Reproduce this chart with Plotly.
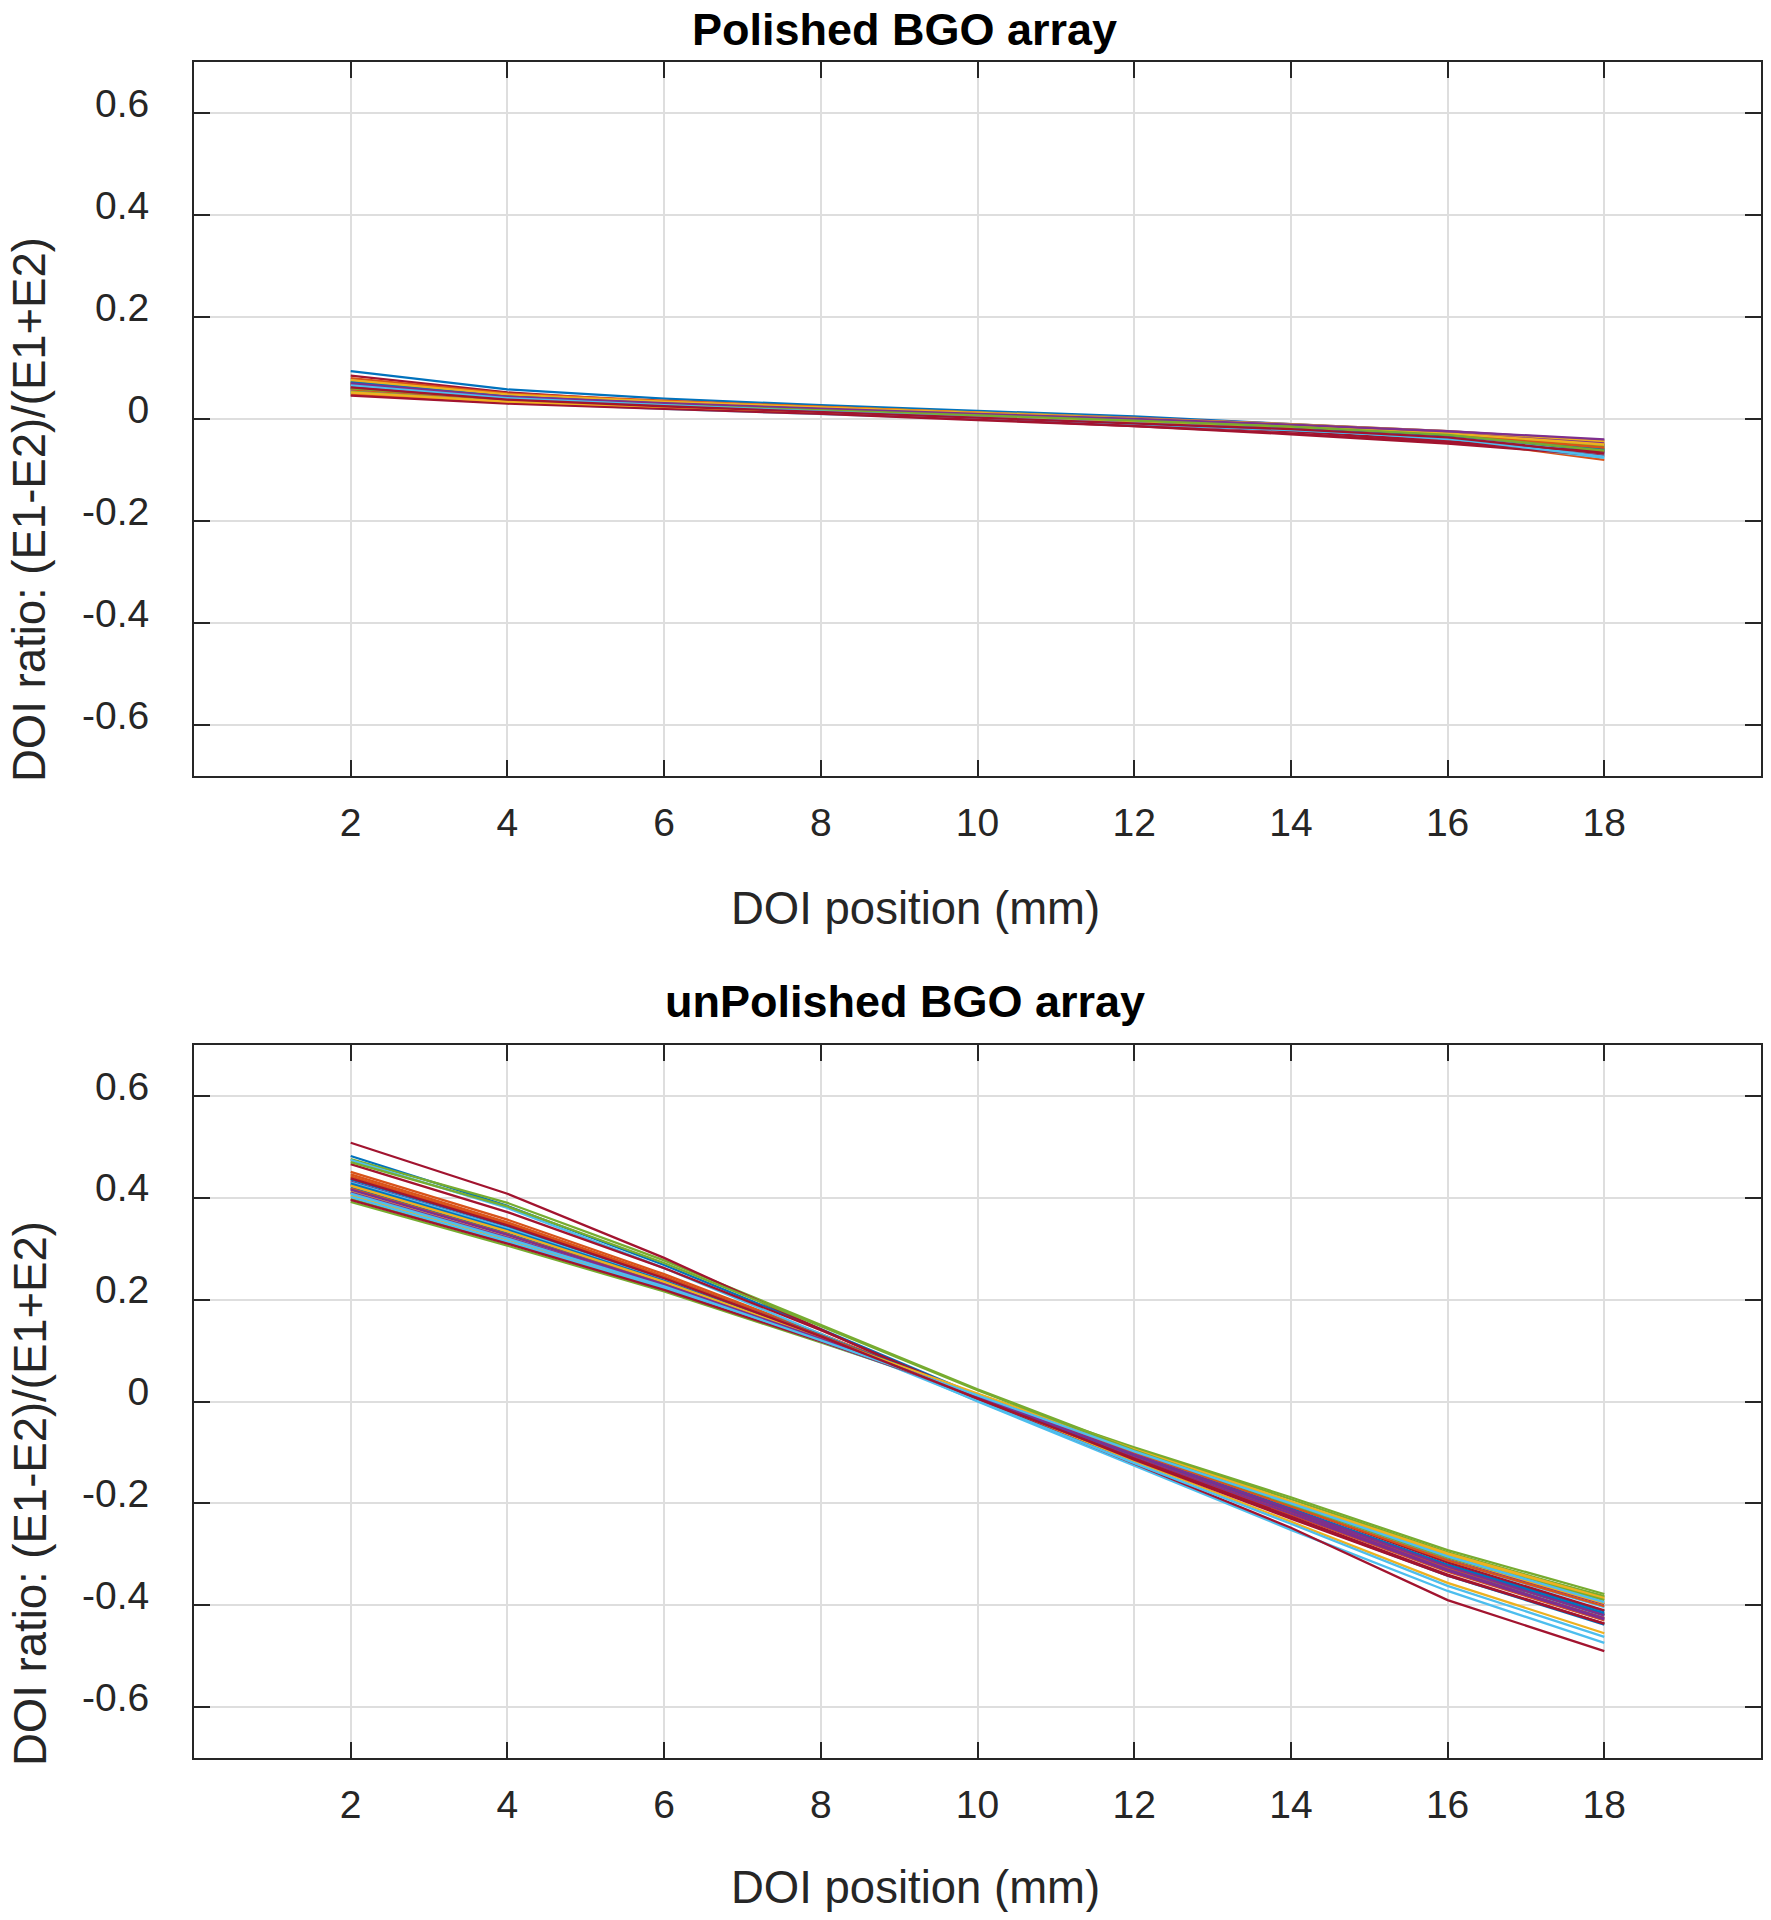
import plotly.graph_objects as go

doi_position_mm = [2, 4, 6, 8, 10, 12, 14, 16, 18]
x_ticks = [2, 4, 6, 8, 10, 12, 14, 16, 18]
y_ticks = [-0.6, -0.4, -0.2, 0, 0.2, 0.4, 0.6]
y_tick_text = ["-0.6", "-0.4", "-0.2", "0", "0.2", "0.4", "0.6"]

matlab_colors = ["#0072BD", "#D95319", "#EDB120", "#7E2F8E", "#77AC30", "#4DBEEE", "#A2142F"]

polished_ratio = [
    [0.094, 0.058, 0.040, 0.027, 0.016, 0.005, -0.010, -0.026, -0.052],
    [0.072, 0.045, 0.031, 0.020, 0.008, -0.004, -0.018, -0.040, -0.080],
    [0.070, 0.046, 0.034, 0.024, 0.013, 0.002, -0.012, -0.028, -0.056],
    [0.060, 0.040, 0.030, 0.021, 0.012, 0.002, -0.010, -0.024, -0.042],
    [0.066, 0.043, 0.031, 0.021, 0.010, -0.001, -0.014, -0.030, -0.058],
    [0.078, 0.050, 0.033, 0.017, 0.004, -0.008, -0.022, -0.040, -0.076],
    [0.085, 0.052, 0.033, 0.018, 0.005, -0.009, -0.024, -0.044, -0.066],
    [0.052, 0.034, 0.022, 0.012, 0.002, -0.008, -0.020, -0.034, -0.060],
    [0.080, 0.050, 0.036, 0.024, 0.012, 0.001, -0.012, -0.028, -0.050],
    [0.064, 0.042, 0.030, 0.020, 0.010, 0.000, -0.012, -0.026, -0.046],
    [0.056, 0.036, 0.025, 0.016, 0.006, -0.004, -0.016, -0.030, -0.054],
    [0.074, 0.047, 0.033, 0.022, 0.011, 0.000, -0.013, -0.030, -0.062],
    [0.050, 0.032, 0.020, 0.010, 0.000, -0.010, -0.022, -0.036, -0.070],
    [0.068, 0.040, 0.026, 0.014, 0.000, -0.014, -0.030, -0.048, -0.072],
    [0.062, 0.040, 0.028, 0.018, 0.008, -0.002, -0.014, -0.030, -0.064],
    [0.048, 0.032, 0.022, 0.013, 0.004, -0.006, -0.018, -0.032, -0.058],
    [0.076, 0.048, 0.034, 0.023, 0.012, 0.002, -0.010, -0.024, -0.044],
    [0.066, 0.042, 0.029, 0.019, 0.009, -0.002, -0.014, -0.028, -0.048],
    [0.054, 0.036, 0.025, 0.016, 0.006, -0.004, -0.016, -0.030, -0.052],
    [0.058, 0.038, 0.026, 0.015, 0.004, -0.006, -0.018, -0.034, -0.068],
    [0.046, 0.030, 0.020, 0.010, -0.002, -0.014, -0.028, -0.046, -0.064],
    [0.072, 0.044, 0.030, 0.019, 0.008, -0.003, -0.016, -0.032, -0.060],
    [0.058, 0.038, 0.027, 0.017, 0.007, -0.003, -0.015, -0.030, -0.056],
    [0.052, 0.034, 0.024, 0.015, 0.006, -0.004, -0.015, -0.028, -0.050],
    [0.070, 0.044, 0.031, 0.020, 0.010, 0.000, -0.011, -0.024, -0.040],
    [0.060, 0.039, 0.027, 0.017, 0.007, -0.003, -0.015, -0.031, -0.062],
    [0.066, 0.041, 0.027, 0.015, 0.003, -0.008, -0.021, -0.038, -0.074],
    [0.062, 0.038, 0.025, 0.014, 0.003, -0.008, -0.020, -0.036, -0.068],
]

unpolished_ratio = [
    [0.482, 0.384, 0.268, 0.142, 0.012, -0.112, -0.228, -0.342, -0.438],
    [0.451, 0.357, 0.250, 0.133, 0.010, -0.108, -0.218, -0.330, -0.425],
    [0.440, 0.348, 0.243, 0.128, 0.004, -0.117, -0.236, -0.356, -0.455],
    [0.425, 0.335, 0.236, 0.126, 0.012, -0.100, -0.205, -0.310, -0.398],
    [0.476, 0.390, 0.277, 0.151, 0.024, -0.094, -0.198, -0.302, -0.382],
    [0.474, 0.380, 0.262, 0.133, 0.000, -0.126, -0.252, -0.372, -0.474],
    [0.508, 0.408, 0.282, 0.142, 0.004, -0.122, -0.248, -0.390, -0.490],
    [0.420, 0.330, 0.232, 0.124, 0.010, -0.103, -0.210, -0.320, -0.412],
    [0.446, 0.352, 0.246, 0.130, 0.008, -0.110, -0.222, -0.334, -0.430],
    [0.405, 0.318, 0.224, 0.120, 0.012, -0.096, -0.198, -0.300, -0.388],
    [0.432, 0.340, 0.239, 0.127, 0.008, -0.108, -0.220, -0.332, -0.428],
    [0.398, 0.312, 0.220, 0.118, 0.014, -0.092, -0.192, -0.296, -0.384],
    [0.430, 0.340, 0.240, 0.126, 0.001, -0.121, -0.240, -0.362, -0.462],
    [0.466, 0.372, 0.262, 0.140, 0.010, -0.114, -0.230, -0.342, -0.436],
    [0.436, 0.345, 0.243, 0.130, 0.012, -0.104, -0.214, -0.326, -0.420],
    [0.442, 0.349, 0.244, 0.129, 0.010, -0.106, -0.216, -0.326, -0.418],
    [0.412, 0.323, 0.228, 0.121, 0.012, -0.098, -0.202, -0.306, -0.396],
    [0.410, 0.322, 0.227, 0.122, 0.008, -0.106, -0.216, -0.330, -0.426],
    [0.392, 0.306, 0.216, 0.116, 0.014, -0.090, -0.188, -0.292, -0.378],
    [0.402, 0.314, 0.222, 0.118, 0.010, -0.100, -0.204, -0.312, -0.404],
    [0.396, 0.310, 0.219, 0.118, 0.012, -0.098, -0.205, -0.316, -0.410],
    [0.428, 0.337, 0.237, 0.126, 0.010, -0.104, -0.212, -0.322, -0.416],
    [0.418, 0.328, 0.231, 0.123, 0.012, -0.100, -0.206, -0.312, -0.402],
    [0.424, 0.334, 0.235, 0.125, 0.016, -0.094, -0.196, -0.298, -0.386],
    [0.416, 0.327, 0.230, 0.123, 0.010, -0.104, -0.212, -0.324, -0.420],
    [0.470, 0.383, 0.272, 0.148, 0.022, -0.096, -0.202, -0.306, -0.390],
    [0.408, 0.320, 0.226, 0.120, 0.012, -0.098, -0.200, -0.304, -0.394],
    [0.438, 0.346, 0.242, 0.128, 0.006, -0.112, -0.226, -0.340, -0.436],
]

# page offset: the HTML body has an 8px margin, so figure px = page px - 8
OFF = 8
W, H = 1755, 1904
FONT = "Liberation Sans, Arial, Helvetica, sans-serif"
TXT = "#262626"

def fx(px):
    return (px - OFF) / W

def fy(px):
    return (H - (px - OFF)) / H

fig = go.Figure()
for i, row in enumerate(polished_ratio):
    fig.add_trace(go.Scatter(x=doi_position_mm, y=row, mode="lines",
                             line=dict(color=matlab_colors[i % 7], width=2.3),
                             xaxis="x", yaxis="y", showlegend=False))
for i, row in enumerate(unpolished_ratio):
    fig.add_trace(go.Scatter(x=doi_position_mm, y=row, mode="lines",
                             line=dict(color=matlab_colors[i % 7], width=2.3),
                             xaxis="x2", yaxis="y2", showlegend=False))

xdom = [fx(194), fx(1761)]
ydom_top = [fy(776), fy(62)]
ydom_bot = [fy(1758), fy(1045)]

axis_common = dict(showline=True, linecolor=TXT, linewidth=2, mirror="ticks",
                   ticks="inside", ticklen=16, tickwidth=2, tickcolor=TXT,
                   showgrid=True, gridcolor="#dedede", gridwidth=2, zeroline=False,
                   tickfont=dict(family=FONT, size=39, color=TXT))

xa = dict(axis_common, range=[0, 20], tickvals=x_ticks, ticktext=[str(v) for v in x_ticks],
          domain=xdom, ticklabelstandoff=11)
ya = dict(axis_common, range=[-0.7, 0.7], tickvals=y_ticks, ticktext=y_tick_text,
          ticklabelstandoff=35, ticklabelshift=-10)

fig.update_layout(
    width=W, height=H,
    margin=dict(l=0, r=0, t=0, b=0),
    paper_bgcolor="white", plot_bgcolor="white",
    xaxis=dict(xa, anchor="y"),
    yaxis=dict(ya, domain=ydom_top, anchor="x"),
    xaxis2=dict(xa, anchor="y2"),
    yaxis2=dict(ya, domain=ydom_bot, anchor="x2"),
)

def ann(text, x_px, y_px, size, bold=False, angle=0):
    fig.add_annotation(text=("<b>%s</b>" % text) if bold else text,
                       x=fx(x_px), y=fy(y_px), xref="paper", yref="paper",
                       showarrow=False, textangle=angle, xanchor="center", yanchor="middle",
                       borderpad=0,
                       font=dict(family=FONT, size=size, color="#000000" if bold else TXT))

ann("Polished BGO array", 905, 30, 45, bold=True)
ann("unPolished BGO array", 905, 1002, 45, bold=True)
ann("DOI position (mm)", 915, 908, 45.5)
ann("DOI position (mm)", 915, 1887, 45.5)
ann("DOI ratio: (E1-E2)/(E1+E2)", 30, 510, 45.5, angle=-90)
ann("DOI ratio: (E1-E2)/(E1+E2)", 30, 1494, 45.5, angle=-90)

fig.write_html("out.html")
